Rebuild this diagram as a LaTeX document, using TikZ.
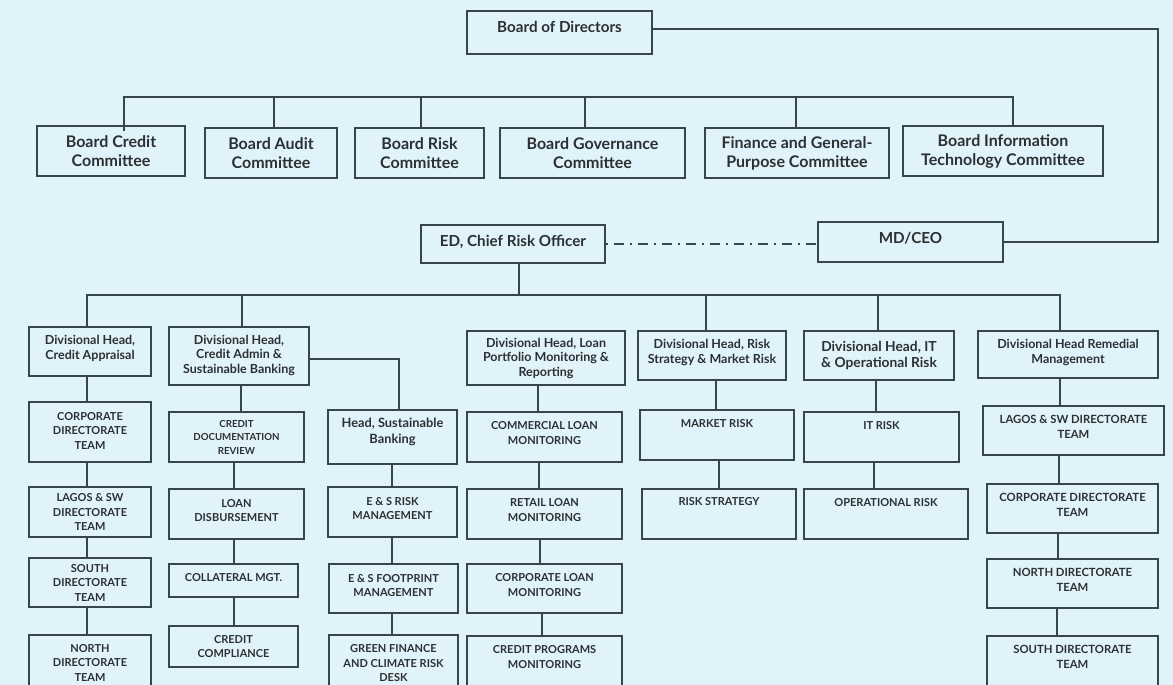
\documentclass[tikz,border=0pt]{standalone}
\usepackage{fontspec}
\setmainfont{Lato}
\definecolor{bg}{HTML}{E1F3FA}
\definecolor{ln}{HTML}{36464C}
\definecolor{tx}{HTML}{2B3033}
\tikzset{
  box/.style={draw=ln, line width=1.4pt, rectangle, inner sep=0pt},
  conn/.style={draw=ln, line width=1.2pt},
  tbig/.style={font=\bfseries\fontsize{16}{19}\selectfont, text=tx, align=center, inner sep=0pt},
  ttop/.style={font=\bfseries\fontsize{15.2}{18}\selectfont, text=tx, align=center, inner sep=0pt},
  tdit/.style={font=\bfseries\fontsize{13.8}{16}\selectfont, text=tx, align=center, inner sep=0pt},
  thsb/.style={font=\bfseries\fontsize{12.8}{16}\selectfont, text=tx, align=center, inner sep=0pt},
  tdiv/.style={font=\bfseries\fontsize{12.5}{14.5}\selectfont, text=tx, align=center, inner sep=0pt},
  tcap/.style={font=\bfseries\fontsize{11}{14.5}\selectfont, text=tx, align=center, inner sep=0pt},
  tcapw/.style={font=\bfseries\fontsize{11.3}{15}\selectfont, text=tx, align=center, inner sep=0pt},
  tsml/.style={font=\bfseries\fontsize{9.7}{13.5}\selectfont, text=tx, align=center, inner sep=0pt},
}
% #1 text style, #2 name, #3 x1, #4 y1, #5 x2, #6 y2, #7 lift of text, #8 text
\newcommand\bx[8]{%
  \node[box, minimum width={#5-#3}, minimum height={#6-#4}] (#2) at ({(#3+#5)/2},{(#4+#6)/2}) {};
  \node[#1] (#2t) at ({(#3+#5)/2},{(#4+#6)/2-#7}) {#8};}
\begin{document}
\begin{tikzpicture}[x=1pt,y=-1pt]
\fill[bg] (0,0) rectangle (1173,685);
\useasboundingbox (0,0) rectangle (1173,685);
% top level
\bx{ttop}{bod}{467}{11}{652}{54}{6}{Board of Directors}
\bx{tbig}{bcc}{37}{126}{185}{176}{0}{Board Credit\\Committee}
\bx{tbig}{bac}{205}{128}{337}{178}{0}{Board Audit\\Committee}
\bx{tbig}{brc}{355}{128}{484}{178}{0}{Board Risk\\Committee}
\bx{tbig}{bgc}{500}{128}{685}{178}{0}{Board Governance\\Committee}
\bx{tbig}{fgp}{705}{128}{889}{178}{0}{Finance and General-\\Purpose Committee}
\bx{tbig}{bit}{903}{126}{1103}{176}{0}{Board Information\\Technology Committee}
\bx{ttop}{cro}{421}{225}{605}{263}{2}{ED, Chief Risk Officer}
\bx{ttop}{ceo}{818}{222}{1003}{262}{4}{MD/CEO}
% divisions
\bx{tdiv}{dca}{29}{327}{151}{376}{3}{Divisional Head,\\Credit Appraisal}
\bx{tdiv}{dcs}{169}{327}{309}{385}{1}{Divisional Head,\\Credit Admin \&\\Sustainable Banking}
\bx{tdiv}{dlp}{467}{331}{625}{385}{0}{Divisional Head, Loan\\Portfolio Monitoring \&\\Reporting}
\bx{tdiv}{drs}{638}{331}{786}{380}{3}{Divisional Head, Risk\\Strategy \& Market Risk}
\bx{tdit}{dit}{804}{331}{954}{380}{0}{Divisional Head, IT\\\& Operational Risk}
\bx{tdiv}{drm}{978}{331}{1158}{378}{2}{Divisional Head Remedial\\Management}
% column 1
\bx{tcap}{ca}{29}{402}{151}{462}{1.5}{CORPORATE\\DIRECTORATE\\TEAM}
\bx{tcap}{cb}{29}{487}{151}{537}{0}{LAGOS \& SW\\DIRECTORATE\\TEAM}
\bx{tcap}{cc}{29}{558}{151}{607}{0}{SOUTH\\DIRECTORATE\\TEAM}
\bx{tcap}{cd}{29}{635}{151}{690}{0}{NORTH\\DIRECTORATE\\TEAM}
% column 2
\bx{tsml}{aa}{169}{412}{304}{462}{0}{CREDIT\\DOCUMENTATION\\REVIEW}
\bx{tcap}{ab}{169}{489}{304}{539}{3.5}{LOAN\\DISBURSEMENT}
\bx{tcap}{ac}{169}{564}{298}{597}{2.5}{COLLATERAL MGT.}
\bx{tcap}{ad}{169}{626}{298}{667}{0}{CREDIT\\COMPLIANCE}
% column 3
\bx{thsb}{hsb}{328}{410}{457}{464}{5}{Head, Sustainable\\Banking}
\bx{tcap}{sa}{328}{487}{457}{537}{3.5}{E \& S RISK\\MANAGEMENT}
\bx{tcap}{sb}{329}{564}{458}{613}{3}{E \& S FOOTPRINT\\MANAGEMENT}
\bx{tcap}{sc}{329}{635}{458}{690}{-1}{GREEN FINANCE\\AND CLIMATE RISK\\DESK}
% column 4
\bx{tcap}{la}{467}{412}{622}{462}{4}{COMMERCIAL LOAN\\MONITORING}
\bx{tcap}{lb}{467}{489}{622}{539}{4}{RETAIL LOAN\\MONITORING}
\bx{tcap}{lc}{467}{564}{622}{613}{3.5}{CORPORATE LOAN\\MONITORING}
\bx{tcap}{ld}{467}{636}{622}{690}{6}{CREDIT PROGRAMS\\MONITORING}
% column 5
\bx{tcap}{ma}{640}{410}{794}{460}{11}{MARKET RISK}
\bx{tcap}{mb}{642}{489}{796}{539}{12}{RISK STRATEGY}
% column 6
\bx{tcap}{oa}{804}{412}{959}{462}{11}{IT RISK}
\bx{tcap}{ob}{804}{489}{968}{539}{11}{OPERATIONAL RISK}
% column 7
\bx{tcapw}{ra}{983}{406}{1164}{455}{4}{LAGOS \& SW DIRECTORATE\\TEAM}
\bx{tcapw}{rb}{987}{484}{1158}{533}{4}{CORPORATE DIRECTORATE\\TEAM}
\bx{tcapw}{rc}{987}{559}{1158}{608}{4}{NORTH DIRECTORATE\\TEAM}
\bx{tcapw}{rd}{987}{636}{1158}{690}{6}{SOUTH DIRECTORATE\\TEAM}
% buses
\coordinate (cbus) at (0,97);
\coordinate (dbus) at (0,295);
\coordinate (rline) at (1158,0);
% committees
\draw[conn] ([yshift=-6pt]bcc.north -| 124,0) -- (cbus -| 124,0) -- (cbus -| 1013,0) -- (bit.north -| 1013,0);
\draw[conn] (bac.north -| 274,0) -- (cbus -| 274,0);
\draw[conn] (brc.north -| 421,0) -- (cbus -| 421,0);
\draw[conn] (bgc.north -| 585,0) -- (cbus -| 585,0);
\draw[conn] (fgp.north -| 796,0) -- (cbus -| 796,0);
% board to CEO
\draw[conn] ([yshift=3.5pt]bod.east) -| (rline |- ceo.east) -- (ceo.east);
% CRO -- CEO
\draw[conn, line width=1.9pt, dash pattern=on 2pt off 6pt on 10pt off 6pt] (cro.east) -- (cro.east -| ceo.west);
% CRO to divisions
\draw[conn] ([xshift=6pt]cro.south) -- (dbus -| 519,0);
\draw[conn] (dca.north -| 87,0) -- (dbus -| 87,0) -- (dbus -| 1060,0) -- (drm.north -| 1060,0);
\draw[conn] (dcs.north -| 242,0) -- (dbus -| 242,0);
\draw[conn] (drs.north -| 706,0) -- (dbus -| 706,0);
\draw[conn] (dit.north -| 878,0) -- (dbus -| 878,0);
% column chains
\draw[conn] (dca.south -| 87,0) -- (ca.north -| 87,0);
\draw[conn] (ca.south -| 87,0) -- (cb.north -| 87,0);
\draw[conn] (cb.south -| 87,0) -- (cc.north -| 87,0);
\draw[conn] (cc.south -| 87,0) -- (cd.north -| 87,0);
\draw[conn] (dcs.south -| 241,0) -- (aa.north -| 241,0);
\draw[conn] (aa.south -| 234,0) -- (ab.north -| 234,0);
\draw[conn] (ab.south -| 234,0) -- (ac.north -| 234,0);
\draw[conn] (ac.south -| 234,0) -- (ad.north -| 234,0);
\draw[conn] ([yshift=-3pt]dcs.east) -| ([xshift=6.5pt]hsb.north);
\draw[conn] (hsb.south -| 392,0) -- (sa.north -| 392,0);
\draw[conn] (sa.south -| 392,0) -- (sb.north -| 392,0);
\draw[conn] (sb.south -| 392,0) -- (sc.north -| 392,0);
\draw[conn] (dlp.south -| 538,0) -- (la.north -| 538,0);
\draw[conn] (la.south -| 539,0) -- (lb.north -| 539,0);
\draw[conn] (lb.south -| 540,0) -- (lc.north -| 540,0);
\draw[conn] (lc.south -| 542,0) -- (ld.north -| 542,0);
\draw[conn] (drs.south -| 716,0) -- (ma.north -| 716,0);
\draw[conn] (ma.south -| 719,0) -- (mb.north -| 719,0);
\draw[conn] (dit.south -| 876,0) -- (oa.north -| 876,0);
\draw[conn] (oa.south -| 874,0) -- (ob.north -| 874,0);
\draw[conn] (drm.south -| 1060,0) -- (ra.north -| 1060,0);
\draw[conn] (ra.south -| 1059,0) -- (rb.north -| 1059,0);
\draw[conn] (rb.south -| 1058,0) -- (rc.north -| 1058,0);
\draw[conn] (rc.south -| 1057,0) -- (rd.north -| 1057,0);
\end{tikzpicture}
\end{document}
